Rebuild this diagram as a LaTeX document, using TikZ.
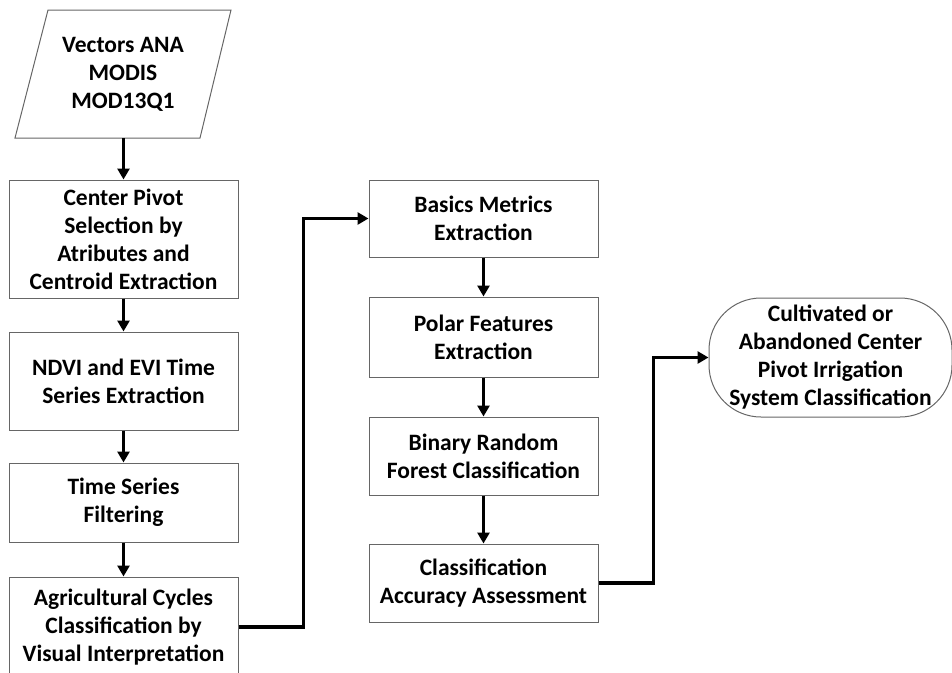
\documentclass[tikz,border=0pt]{standalone}
\usepackage{fontspec}
\setmainfont{Carlito}
\usetikzlibrary{arrows.meta}
\tikzset{
  boxlabel/.style={font=\bfseries\fontsize{23.5}{28}\selectfont, align=center, inner sep=0pt},
  stepbox/.style={boxlabel, draw=black!60, line width=1pt, minimum width=229pt},
  flow/.style={line width=3.2pt, -{Triangle[length=11pt,width=12pt]}},
}
\begin{document}
\begin{tikzpicture}[x=1pt,y=-1pt]
\useasboundingbox (0,0) rectangle (952,672);

% input data (parallelogram)
\draw[black!60, line width=1pt] (48,10) -- (231,10) -- (200,138) -- (15,138) -- cycle;
\node[boxlabel] (src) at (123,74) {Vectors ANA\\MODIS\\MOD13Q1};
\coordinate (srcbot) at (123.5,138);

% left column
\node[stepbox, minimum height=118pt] (b1) at (123.5,239) {Center Pivot\\Selection by\\Atributes and\\Centroid Extraction};
\node[stepbox, minimum height=98pt] (b2) at (123.5,381) {NDVI and EVI Time\\Series Extraction};
\node[stepbox, minimum height=79pt] (b3) at (123.5,502.5) {Time Series\\Filtering};
\node[stepbox, minimum height=100pt] (b4) at (123.5,627) {Agricultural Cycles\\Classification by\\Visual Interpretation};

% middle column
\node[stepbox, minimum height=77pt] (b5) at (483.5,218.5) {Basics Metrics\\Extraction};
\node[stepbox, minimum height=80pt] (b6) at (483.5,337) {Polar Features\\Extraction};
\node[stepbox, minimum height=78pt] (b7) at (483.5,456) {Binary Random\\Forest Classification};
\node[stepbox, minimum height=78pt] (b8) at (483.5,583) {Classification\\Accuracy Assessment};

% final result
\node[boxlabel, draw=black!60, line width=1pt, rounded corners=52pt,
      minimum width=243pt, minimum height=119pt] (res) at (830.5,357.5)
      {Cultivated or\\Abandoned Center\\Pivot Irrigation\\System Classification};

% connectors
\draw[flow] (srcbot) -- (b1.north);
\draw[flow] (b1) -- (b2);
\draw[flow] (b2) -- (b3);
\draw[flow] (b3) -- (b4);
\draw[flow] (b4.east) -- ++(65,0) |- (b5.west);
\draw[flow] (b5) -- (b6);
\draw[flow] (b6) -- (b7);
\draw[flow] (b7) -- (b8);
\draw[flow] (b8.east) -- ++(55,0) |- (res.west);
\end{tikzpicture}
\end{document}
